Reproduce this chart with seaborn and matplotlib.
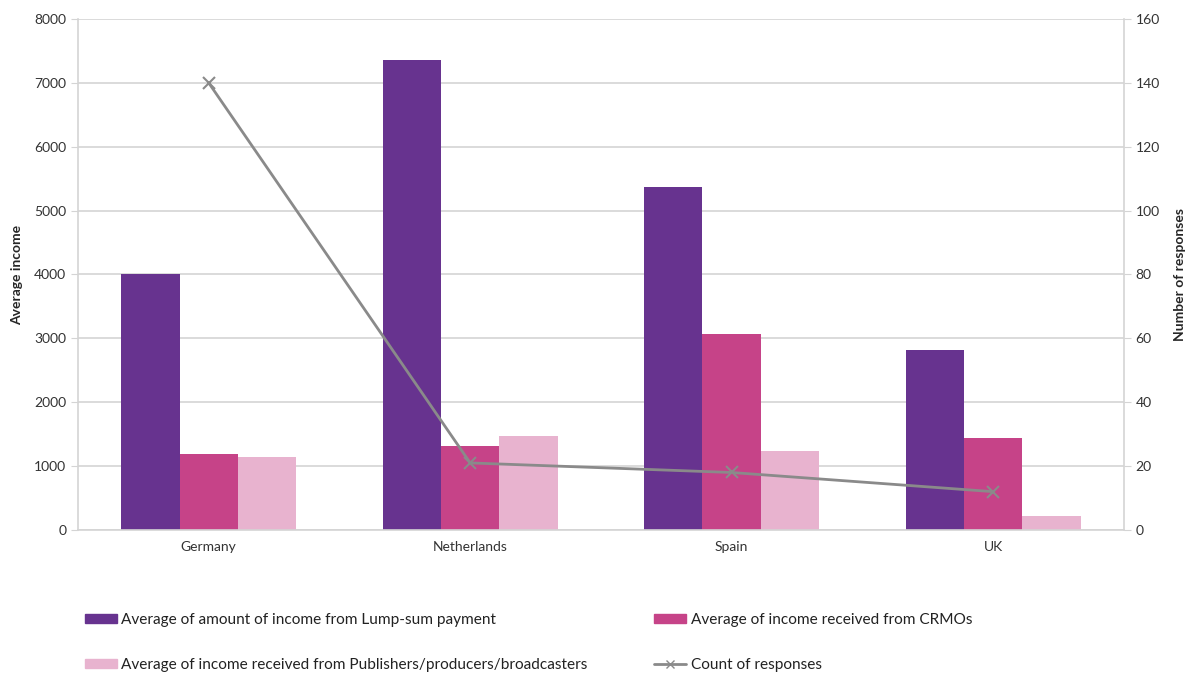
import numpy as np
import pandas as pd
import seaborn as sns
import matplotlib.pyplot as plt
from matplotlib.patches import Patch
from matplotlib.lines import Line2D

countries = ["Germany", "Netherlands", "Spain", "UK"]
lump_sum = [4000, 7360, 5370, 2820]
crmos = [1190, 1320, 3070, 1440]
publishers = [1140, 1470, 1240, 215]
responses = [140, 21, 18, 12]

series_names = ["Average of amount of income from Lump-sum payment",
                "Average of income received from CRMOs",
                "Average of income received from Publishers/producers/broadcasters"]
line_name = "Count of responses"
colors = ["#67338F", "#C64388", "#E8B3CF"]
line_color = "#8A8A8A"
grid_color = "#D4D4D4"

sns.set_style("white")
plt.rcParams['font.family'] = ['Lato', 'DejaVu Sans']

df = pd.DataFrame({
    "country": countries * 3,
    "value": lump_sum + crmos + publishers,
    "series": [s for s in series_names for _ in countries],
})

fig = plt.figure(figsize=(11.94, 6.73), dpi=100)
ax = fig.add_axes([0.0653, 0.2125, 0.876, 0.7593])

sns.barplot(data=df, x="country", y="value", hue="series", hue_order=series_names,
            palette=colors, width=0.67, gap=0, saturation=1, linewidth=0,
            ax=ax, legend=False)

ax.set_ylim(0, 8000)
ax.set_yticks(np.arange(0, 8001, 1000))
ax.yaxis.grid(True, color=grid_color, linewidth=1.2)
ax.set_axisbelow(True)
ax.set_xlim(-0.5, 3.5)
ax.set_xticks(np.arange(4))
ax.set_xticklabels(countries)
ax.set_xticks(np.arange(-0.5, 4, 1), minor=True)
ax.tick_params(axis="x", which="major", length=0, labelsize=10, pad=8, colors="#333333")
ax.tick_params(axis="x", which="minor", length=5, color=grid_color, direction="out")
ax.tick_params(axis="y", length=5, color=grid_color, labelsize=10, colors="#333333", direction="out")
ax.set_xlabel("")
ax.set_ylabel("Average income", fontsize=10, fontweight="bold", labelpad=8)
for s in ["top", "right"]:
    ax.spines[s].set_visible(False)
for s in ["left", "bottom"]:
    ax.spines[s].set_color(grid_color)
    ax.spines[s].set_linewidth(1.2)

ax2 = ax.twinx()
sns.pointplot(x=countries, y=responses, color=line_color, markers="x", linestyles="-",
              ax=ax2, markersize=9, linewidth=2)
ax2.set_ylim(0, 160)
ax2.set_yticks(np.arange(0, 161, 20))
ax2.set_xlim(-0.5, 3.5)
ax2.tick_params(axis="y", length=5, color=grid_color, labelsize=10, colors="#333333", direction="out")
ax2.set_ylabel("Number of responses", fontsize=10, fontweight="bold", labelpad=10)
for s in ["top", "left", "bottom"]:
    ax2.spines[s].set_visible(False)
ax2.spines["right"].set_color(grid_color)
ax2.spines["right"].set_linewidth(1.2)

handles = [Patch(color=colors[0], label=series_names[0]),
           Patch(color=colors[2], label=series_names[2]),
           Patch(color=colors[1], label=series_names[1]),
           Line2D([], [], color=line_color, marker="x", markersize=6, linewidth=2, label=line_name)]
fig.legend(handles=handles, ncol=2, loc="upper left", bbox_to_anchor=(0.0595, 0.11),
           frameon=False, fontsize=11.1, handlelength=2.08, handleheight=0.52,
           handletextpad=0.26, columnspacing=4.35, labelspacing=2.0, labelcolor="#222222")

fig.savefig("out.png", dpi=100)
